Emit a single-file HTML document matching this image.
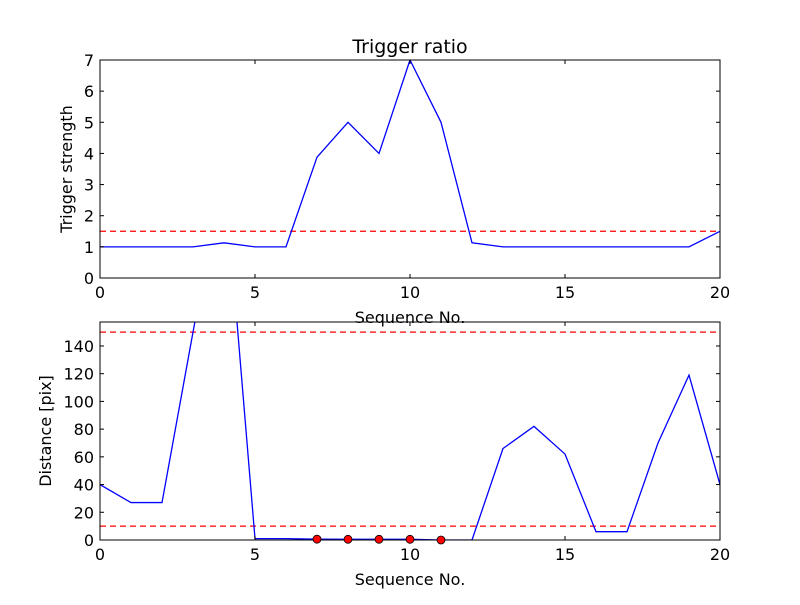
<!DOCTYPE html>
<html><head><meta charset="utf-8"><style>
body{margin:0;background:#fff}
text{font-family:"DejaVu Sans","Liberation Sans",sans-serif;fill:#000}
</style></head><body>
<svg id="fig" width="800" height="600" xmlns="http://www.w3.org/2000/svg"></svg>
<script>
const seq = [0,1,2,3,4,5,6,7,8,9,10,11,12,13,14,15,16,17,18,19,20];
const ratio = [1,1,1,1,1.13,1,1,3.88,5,4,7,5,1.13,1,1,1,1,1,1,1,1.5];
const ratioThreshold = 1.5;
const dist = [40,27,27,150,270,1,1,0.6,0.5,0.5,0.5,0,0,66,82,62,6,6,70,119,40];
const distThresholds = [10,150];
const markX = [7,8,9,10,11];
const markY = [0.6,0.5,0.5,0.5,0];
const xTicks = [0,5,10,15,20];
const topYTicks = [0,1,2,3,4,5,6,7];
const botYTicks = [0,20,40,60,80,100,120,140];

const NS="http://www.w3.org/2000/svg";
const svg=document.getElementById('fig');
function mk(tag,attrs,parent){const e=document.createElementNS(NS,tag);for(const k in attrs)e.setAttribute(k,attrs[k]);(parent||svg).appendChild(e);return e;}

function panel(name,top,bot,ymax,yTicks,xs,ys,thr,ylabel,title){
  const L=100,R=720;
  const sx=v=>L+(v-0)/(20-0)*(R-L);
  const sy=v=>bot-(v/ymax)*(bot-top);
  const g=mk('g',{});
  
  
  const cid='clip-'+name;
  const cp=mk('clipPath',{id:cid},g);mk('rect',{x:L,y:top,width:R-L,height:bot-top},cp);
  thr.forEach(t=>{const l=mk('line',{x1:L,x2:R,y1:sy(t),y2:sy(t),stroke:'#ff0000','stroke-width':1.2,'stroke-dasharray':'6,4','clip-path':`url(#${cid})`},g);
    
    });
  const p=mk('polyline',{points:xs.map((x,i)=>sx(x)+','+sy(ys[i])).join(' '),fill:'none',stroke:'#0000ff','stroke-width':1.3,'clip-path':`url(#${cid})`},g);
  
  
  const fr=mk('rect',{x:L,y:top,width:R-L,height:bot-top,fill:'none',stroke:'#000','stroke-width':1},g);
  
  
  xTicks.forEach(t=>{const x=sx(t);
    mk('line',{x1:x,x2:x,y1:bot,y2:bot-4,stroke:'#000'},g);mk('line',{x1:x,x2:x,y1:top,y2:top+4,stroke:'#000'},g);
    const tx=mk('text',{x:x,y:bot+20,'text-anchor':'middle','font-size':16},g);tx.textContent=t;
    
    });
  yTicks.forEach(t=>{const y=sy(t);
    mk('line',{x1:L,x2:L+4,y1:y,y2:y,stroke:'#000'},g);mk('line',{x1:R,x2:R-4,y1:y,y2:y,stroke:'#000'},g);
    const tx=mk('text',{x:L-6,y:y+6,'text-anchor':'end','font-size':16},g);tx.textContent=t;
    
    });
  const xl=mk('text',{x:(L+R)/2,y:bot+45,'text-anchor':'middle','font-size':16},g);xl.textContent='Sequence No.';
  
  
  const yl=mk('text',{x:0,y:0,'text-anchor':'middle','font-size':16,transform:`translate(${name==='top'?72:51},${(top+bot)/2}) rotate(-90)`},g);yl.textContent=ylabel;
  
  
  if(title){const t=mk('text',{x:(L+R)/2,y:top-7,'text-anchor':'middle','font-size':19},g);t.textContent=title;
    
    }
  return {sx,sy,g};
}
panel('top',60,278,7,topYTicks,seq,ratio,[ratioThreshold],'Trigger strength','Trigger ratio');
const b=panel('bottom',322,540,157.3,botYTicks,seq,dist,distThresholds,'Distance [pix]',null);
markX.forEach((x,i)=>{const c=mk('circle',{cx:b.sx(x),cy:b.sy(markY[i]),r:4,fill:'#ff0000',stroke:'#000','stroke-width':0.8},b.g);
  
  });
</script>
</body></html>
